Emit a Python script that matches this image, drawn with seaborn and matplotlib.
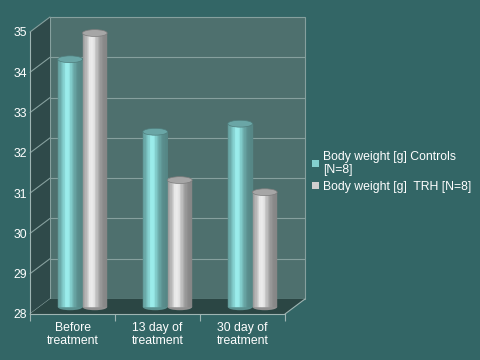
import matplotlib
matplotlib.use('Agg')
import matplotlib.pyplot as plt
import seaborn as sns
import pandas as pd
import numpy as np
from matplotlib.patches import Rectangle, Ellipse, Polygon, Patch
from matplotlib.transforms import ScaledTranslation
from matplotlib.colors import to_rgb

categories = ['Before\ntreatment', '13 day of\ntreatment', '30 day of\ntreatment']
series = ['Body weight [g] Controls\n[N=8]', 'Body weight [g]  TRH [N=8]']
controls = [34.15, 32.35, 32.55]
trh = [34.8, 31.15, 30.85]
y_ticks = [28, 29, 30, 31, 32, 33, 34, 35]

df = pd.DataFrame({
    'cat': categories * 2,
    'series': [series[0]] * len(controls) + [series[1]] * len(trh),
    'value': controls + trh,
})

sns.set_theme(style='white')
plt.rcParams['font.family'] = ['Liberation Sans', 'DejaVu Sans']

BG = '#336666'
WALL = '#4e706e'
SIDE = '#2f4a4a'
FLOOR = '#2b4644'
GRID = '#86a09e'
SPINE = '#9fb5b3'
COLORS = ['#84d0cf', '#cfcfcf']

W, H = 480, 360
fig = plt.figure(figsize=(4.8, 3.6), dpi=100, facecolor=BG)
ax = fig.add_axes([30 / W, 1 - 314 / H, 255 / W, 282 / H])
ax.set_facecolor('none')

sns.barplot(data=df, x='cat', y='value', hue='series', order=categories,
            hue_order=series, palette=COLORS, width=0.58, dodge=True,
            legend=False, ax=ax, saturation=1, zorder=5)
bars = list(ax.patches)
ax.set_ylim(y_ticks[0], y_ticks[-1])
ax.set_xlim(-0.5, len(categories) - 0.5)

# 3D-like walls
dx, dy = 20 / 255, 15 / 282
ax.add_patch(Rectangle((dx, dy), 1, 1, transform=ax.transAxes, facecolor=WALL,
                       edgecolor=GRID, lw=0.8, zorder=0, clip_on=False))
ax.add_patch(Polygon([(0, 0), (0, 1), (dx, 1 + dy), (dx, dy)], closed=True,
                     transform=ax.transAxes, facecolor=SIDE, edgecolor='none',
                     zorder=0.5, clip_on=False))
ax.add_patch(Polygon([(0, 0), (1, 0), (1 + dx, dy), (dx, dy)], closed=True,
                     transform=ax.transAxes, facecolor=FLOOR, edgecolor='none',
                     zorder=1, clip_on=False))
span = y_ticks[-1] - y_ticks[0]
for v in y_ticks:
    ya = (v - y_ticks[0]) / span
    if y_ticks[0] < v < y_ticks[-1]:
        ax.plot([dx, 1 + dx], [ya + dy, ya + dy], transform=ax.transAxes,
                color=GRID, lw=0.8, zorder=0.6, clip_on=False)
    ax.plot([0, dx], [ya, ya + dy], transform=ax.transAxes, color=GRID,
            lw=0.8, zorder=0.7, clip_on=False)
ax.plot([1, 1 + dx], [0, dy], transform=ax.transAxes, color=SPINE, lw=0.8,
        zorder=2, clip_on=False)

# cylinders
off = ScaledTranslation(10 / 100, 7 / 100, fig.dpi_scale_trans)
tr = ax.transData + off
base = y_ticks[0]
n = 18
for p in bars:
    x0, w, top = p.get_x(), p.get_width(), p.get_height()
    col = np.array(to_rgb(p.get_facecolor()))
    p.set_y(base)
    p.set_height(top - base)
    p.set_transform(tr)
    p.set_clip_on(False)
    p.set_facecolor(col * 0.64)
    p.set_edgecolor('none')
    ax.add_patch(Ellipse((x0 + w / 2, base), w, 0.16, transform=tr,
                         facecolor=col * 0.7, edgecolor='none', zorder=5.5,
                         clip_on=False))
    for i in range(n):
        t = (i + 0.5) / n
        f = 0.64 + 0.44 * np.exp(-((t - 0.38) / 0.3) ** 2)
        c = np.clip(col * f + (0.05 if 0.25 < t < 0.5 else 0), 0, 1)
        ax.add_patch(Rectangle((x0 + i * w / n, base), w / n, top - base,
                               transform=tr, facecolor=c, edgecolor=c, lw=0.3,
                               zorder=6, clip_on=False))
    ax.add_patch(Ellipse((x0 + w / 2, top), w, 0.17, transform=tr,
                         facecolor=col * 0.8, edgecolor=col * 0.6, lw=0.5,
                         zorder=7, clip_on=False))

# axes styling
for s in ['top', 'right']:
    ax.spines[s].set_visible(False)
for s in ['left', 'bottom']:
    ax.spines[s].set_color(SPINE)
    ax.spines[s].set_linewidth(0.8)
    ax.spines[s].set_zorder(3)
ax.set_yticks(y_ticks)
ax.set_yticklabels([str(v) for v in y_ticks])
ax.tick_params(axis='y', length=0, pad=2, labelsize=8.8, labelcolor='white')
ax.set_xticks(range(len(categories)))
ax.set_xticklabels(categories)
ax.tick_params(axis='x', which='major', length=0, pad=6, labelsize=8.8,
               labelcolor='white')
ax.set_xticks(np.arange(-0.5, len(categories)), minor=True)
ax.tick_params(axis='x', which='minor', length=5, width=0.8, color=SPINE,
               direction='out', bottom=True)
for lab in ax.get_xticklabels():
    lab.set_linespacing(1.1)
ax.set_xlabel('')
ax.set_ylabel('')

handles = [Patch(facecolor=COLORS[0], edgecolor='none'),
           Patch(facecolor=COLORS[1], edgecolor='none')]
leg = fig.legend(handles=handles, labels=series, loc='upper left',
                 bbox_to_anchor=(312 / W, 1 - 151 / H), frameon=False,
                 fontsize=8.8, labelcolor='white', handlelength=0.55,
                 handleheight=0.55, handletextpad=0.35, labelspacing=0.4,
                 borderaxespad=0, borderpad=0)
for t in leg.get_texts():
    t.set_linespacing(1.1)

fig.savefig('out.png', dpi=100, facecolor=BG)
